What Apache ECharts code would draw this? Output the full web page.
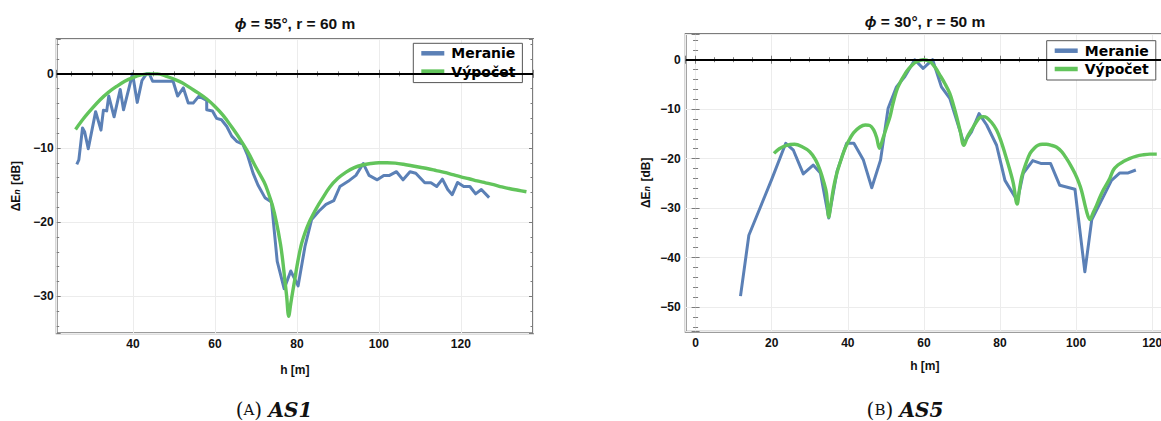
<!DOCTYPE html>
<html>
<head>
<meta charset="utf-8">
<script src="https://cdn.jsdelivr.net/npm/echarts@6/dist/echarts.min.js"></script>
<style>
  html, body { margin: 0; padding: 0; background: #fff; }
  #chart { width: 1161px; height: 421px; }
</style>
</head>
<body>
<div id="chart"></div>
<script>
// AS1: phi = 55°, r = 60 m — measured normalised field [h (m), dB]
const measAS1 = [
  [26.3, -12.2], [26.8, -11.6], [27.7, -7.3], [28.2, -7.8], [29.1, -10.1],
  [30.9, -5.1], [32.2, -7.6], [32.8, -4.9], [33.6, -5.0], [34.1, -3.0],
  [35.4, -5.8], [36.9, -2.1], [37.7, -4.85], [39.9, 0], [41.05, -3.85],
  [42.2, -0.9], [43.3, 0], [44.0, 0], [44.8, -1], [46.0, -1], [47.3, -1],
  [48.6, -1], [49.8, -1], [50.9, -3.0], [52.3, -1.9], [53.5, -3.95],
  [54.7, -3.95], [56.1, -3.0], [58.0, -3.6], [58.0, -4.85], [59.4, -5.0],
  [60.4, -6.0], [61.6, -6.2], [62.9, -7.1], [64.1, -8.4], [65.3, -9.1],
  [66.8, -9.5], [67.9, -10.9], [69.3, -13.4], [70.5, -15.0], [72.2, -16.7],
  [73.8, -17.3], [75.2, -25.3], [76.9, -29.0], [78.5, -26.6], [80.3, -28.6],
  [82.0, -23.2], [83.6, -19.65], [85.4, -18.5], [87.1, -17.6], [89.0, -17.1],
  [90.5, -15.2], [92.5, -14.5], [94.4, -13.7], [96.2, -12.1], [97.6, -13.7],
  [99.6, -14.3], [101.2, -13.7], [102.6, -13.7], [104.3, -13.2], [105.9, -14.3],
  [107.6, -13.2], [109.0, -13.4], [111.2, -14.7], [112.7, -14.7], [114.1, -15.2],
  [115.5, -14.2], [116.8, -15.6], [117.9, -16.3], [119.2, -14.65], [120.7, -15.2],
  [122.2, -15.2], [123.6, -16.2], [125.0, -15.6], [126.9, -16.7]
];

// AS1 — computed curve
const calcAS1 = [
  [26, -7.5], [28, -6.0], [30, -4.7], [32, -3.5], [34, -2.5], [36, -1.7],
  [38, -1.0], [40, -0.5], [42, -0.15], [44, 0], [46, 0], [48, -0.3],
  [50, -0.7], [52, -1.2], [54, -1.9], [56, -2.6], [58, -3.4], [60, -4.4],
  [62, -5.6], [64, -7.1], [66, -8.7], [68, -10.5], [70, -12.6], [72, -14.6],
  [73, -16.0], [74, -17.7], [75, -20.0], [76, -23.0], [76.5, -25.0],
  [77, -27.5], [77.5, -30.0], [78, -32.7], [78.5, -31.0], [79, -29.3],
  [79.5, -27.7], [80, -26.0], [81, -23.2], [82, -21.4], [83, -20.0],
  [84, -18.9], [85, -17.9], [86, -17.0], [88, -15.3], [90, -14.1],
  [92, -13.25], [94, -12.65], [96, -12.3], [98, -12.1], [100, -12.0],
  [102, -12.0], [104, -12.05], [106, -12.2], [108, -12.4], [110, -12.6],
  [112, -12.8], [114, -13.05], [116, -13.3], [118, -13.6], [120, -13.9],
  [122, -14.15], [124, -14.45], [126, -14.7], [128, -14.95], [130, -15.25],
  [132, -15.5], [134, -15.7], [136, -15.9]
];

// AS5: phi = 30°, r = 50 m — measured
const measAS5 = [
  [11.8, -47.8], [14.0, -35.5], [16.5, -30.8], [20.0, -24.2], [23.7, -16.9],
  [25.7, -18.3], [28.3, -23.1], [30.9, -21.3], [32.8, -22.9], [35.0, -32.0],
  [37.2, -22.5], [39.7, -16.9], [41.6, -16.9], [44.1, -20.3], [46.3, -25.9],
  [48.6, -20.3], [50.6, -9.8], [52.8, -5.5], [55.0, -3.4], [57.6, 0],
  [59.8, -1.75], [62.3, 0], [64.6, -5.5], [66.8, -7.8], [70.5, -16.9],
  [72.5, -14.6], [74.5, -10.9], [76.5, -13.2], [79.1, -17.3], [81.3, -24.4],
  [83.9, -27.7], [84.6, -28.4], [86.1, -23.0], [88.6, -20.4], [90.9, -21.0],
  [93.3, -21.0], [95.7, -25.4], [99.7, -26.2], [102.3, -42.9], [104.1, -32.4],
  [106.7, -28.4], [109.3, -24.4], [111.5, -22.9], [113.7, -22.9], [115.7, -22.3]
];

// AS5 — computed curve
const calcAS5 = [
  [20.6, -18.95], [22.0, -18.0], [23.9, -17.3], [26.0, -17.1], [28.0, -17.6],
  [30.0, -18.6], [31.5, -20.2], [32.7, -22.3], [33.6, -24.5], [34.4, -27.0],
  [35.0, -31.8], [35.6, -29.0], [36.3, -25.7], [37.1, -23.0], [37.9, -21.0],
  [39.0, -18.5], [40.1, -16.6], [41.5, -14.8], [43.2, -13.6], [44.6, -13.2],
  [45.8, -13.3], [46.8, -14.2], [47.6, -15.8], [48.3, -17.9], [49.2, -16.0],
  [50.2, -13.6], [51.1, -11.5], [51.9, -8.8], [53.2, -5.5], [55.4, -2.4],
  [57.0, -1.0], [58.1, -0.4], [59.8, 0], [61.6, -0.4], [63.0, -1.6],
  [64.2, -3.1], [65.5, -4.8], [66.8, -6.8], [67.7, -9.0], [68.6, -11.5],
  [69.5, -14.3], [70.5, -17.3], [71.5, -15.5], [72.5, -14.2], [73.6, -12.8],
  [74.7, -11.7], [75.6, -11.5], [76.5, -11.7], [77.8, -12.7], [79.1, -14.2],
  [80.2, -16.3], [81.3, -18.95], [82.4, -21.8], [83.5, -25.0], [84.5, -29.2],
  [85.1, -26.3], [85.7, -23.7], [86.8, -21.0], [87.9, -18.95], [89.0, -17.9],
  [90.0, -17.3], [91.1, -17.1], [92.2, -17.1], [93.5, -17.3], [94.9, -17.7],
  [96.2, -18.6], [97.5, -20.0], [98.6, -21.4], [99.7, -23.0], [100.6, -24.6],
  [101.4, -26.4], [102.8, -30.8], [103.6, -32.3], [104.5, -30.9], [105.4, -29.4],
  [106.2, -27.9], [107.1, -26.4], [108.0, -25.2], [108.9, -23.9], [109.8, -22.3],
  [111.0, -21.3], [112.4, -20.6], [114.0, -20.0], [115.9, -19.5], [117.5, -19.25],
  [119.4, -19.1], [121.2, -19.1]
];

// labelled tick values
const hTicksAS1 = [40, 60, 80, 100, 120];
const dbTicksAS1 = [-30, -20, -10, 0];
const hTicksAS5 = [0, 20, 40, 60, 80, 100, 120];
const dbTicksAS5 = [-50, -40, -30, -20, -10, 0];

const seriesNames = ['Meranie', 'Výpočet'];
const titles = ['{i|ϕ} = 55°, r = 60 m', '{i|ϕ} = 30°, r = 50 m'];
const captions = [['A', 'AS1'], ['B', 'AS5']];

const BLUE = '#5b80b6';
const GREEN = '#62c45b';
const FRAME = '#7c7c7c';
const GRIDLINE = '#ececec';
const LABEL_FONT = 'Liberation Sans';

function tickFormatter(ticks) {
  return function (v) {
    return ticks.indexOf(v) >= 0 ? String(v).replace('-', '\u2212') : '';
  };
}

function xAxes(gridIndex, min, max, ticks, nameGap) {
  const common = {
    type: 'value', gridIndex, min, max, splitNumber: 6,
    axisLine: { show: false },
    axisTick: { show: true, inside: true, length: 4, lineStyle: { color: FRAME, width: 1 } },
    minorTick: { show: true, splitNumber: 4, length: 2.5, lineStyle: { color: FRAME, width: 1 } }
  };
  return [
    Object.assign({}, common, {
      position: 'bottom',
      axisLabel: {
        formatter: tickFormatter(ticks), margin: 5,
        fontFamily: LABEL_FONT, fontWeight: 'bold', fontSize: 12, color: '#111'
      },
      splitLine: { show: true, lineStyle: { color: GRIDLINE, width: 1 } },
      name: 'h [m]', nameLocation: 'middle', nameGap,
      nameTextStyle: { fontFamily: LABEL_FONT, fontWeight: 'bold', fontSize: 12, color: '#111' }
    }),
    Object.assign({}, common, {
      position: 'top', axisLabel: { show: false }, splitLine: { show: false }
    })
  ];
}

function yAxes(gridIndex, min, max, ticks, nameGap, margin) {
  const common = {
    type: 'value', gridIndex, min, max, splitNumber: 5,
    axisLine: { show: false },
    axisTick: { show: true, inside: true, length: 4, lineStyle: { color: FRAME, width: 1 } },
    minorTick: { show: true, splitNumber: 5, length: 2.5, lineStyle: { color: FRAME, width: 1 } }
  };
  return [
    Object.assign({}, common, {
      position: 'left',
      axisLabel: {
        formatter: tickFormatter(ticks), margin,
        fontFamily: LABEL_FONT, fontWeight: 'bold', fontSize: 12, color: '#111'
      },
      splitLine: { show: true, lineStyle: { color: GRIDLINE, width: 1 } },
      name: 'ΔE{n|n} [dB]', nameLocation: 'middle', nameRotate: 90, nameGap,
      nameTextStyle: {
        fontFamily: LABEL_FONT, fontWeight: 'bold', fontSize: 12, color: '#111',
        rich: {
          n: { fontFamily: LABEL_FONT, fontWeight: 'bold', fontStyle: 'italic', fontSize: 9,
               color: '#111', verticalAlign: 'bottom', padding: [0, 1, 0, 0] }
        }
      }
    }),
    Object.assign({}, common, {
      position: 'right', axisLabel: { show: false }, splitLine: { show: false }
    })
  ];
}

function lineSeries(name, data, color, width, xi, yi, smooth, extra) {
  return Object.assign({
    name, type: 'line', data, xAxisIndex: xi, yAxisIndex: yi,
    showSymbol: false, symbol: 'none', smooth, color,
    lineStyle: { color, width, join: 'round' },
    emphasis: { disabled: true }, animation: false
  }, extra || {});
}

function zeroLine() {
  return {
    markLine: {
      silent: true, symbol: 'none', animation: false,
      label: { show: false },
      lineStyle: { color: '#000', width: 1.8, type: 'solid' },
      data: [{ yAxis: 0 }]
    }
  };
}

function legend(left, top) {
  return {
    data: seriesNames, orient: 'vertical', left, top,
    icon: 'rect', itemWidth: 23, itemHeight: 4.5, itemGap: 2.3,
    padding: [2, 7, 3, 8],
    backgroundColor: '#fff', borderColor: '#555', borderWidth: 1,
    selectedMode: false,
    textStyle: { fontFamily: 'DejaVu Sans', fontWeight: 'bold', fontSize: 14,
                 lineHeight: 16, color: '#000', padding: [0, 0, 0, 2] }
  };
}

function titleText(x, y, text) {
  return {
    type: 'text', x, y,
    style: {
      text, align: 'center', verticalAlign: 'middle',
      font: 'bold 15.5px "Liberation Sans"', fill: '#111',
      rich: { i: { fontFamily: LABEL_FONT, fontWeight: 'bold', fontStyle: 'italic', fontSize: 15.5, fill: '#111' } }
    }
  };
}

function captionText(x, y, cap) {
  return {
    type: 'text', x, y,
    style: {
      text: '{r|(}{s|' + cap[0] + '}{r|) }{b|' + cap[1] + '}',
      align: 'center', verticalAlign: 'middle', fill: '#111',
      font: '20px "DejaVu Serif"',
      rich: {
        r: { fontFamily: 'DejaVu Serif', fontSize: 20, fill: '#111' },
        s: { fontFamily: 'DejaVu Serif', fontSize: 15, fill: '#111' },
        b: { fontFamily: 'DejaVu Serif', fontSize: 20, fontWeight: 'bold', fontStyle: 'italic', fill: '#111' }
      }
    }
  };
}

const chart = echarts.init(document.getElementById('chart'), null, { renderer: 'svg' });

chart.setOption({
  animation: false,
  backgroundColor: '#fff',
  grid: [
    { left: 56.7, top: 39, width: 476.3, height: 294.3, show: true, outerBoundsMode: 'none',
      borderColor: FRAME, borderWidth: 2, backgroundColor: 'transparent' },
    { left: 685.7, top: 34, width: 478.3, height: 297.7, show: true, outerBoundsMode: 'none',
      borderColor: FRAME, borderWidth: 2, backgroundColor: 'transparent' }
  ],
  xAxis: [].concat(
    xAxes(0, 21.4, 137.6, hTicksAS1, 31),
    xAxes(1, -2.6, 123.1, hTicksAS5, 28)
  ),
  yAxis: [].concat(
    yAxes(0, -35, 4.7, dbTicksAS1, 35, 3),
    yAxes(1, -55, 5.2, dbTicksAS5, 34, 5)
  ),
  legend: [legend(413.3, 43.3), legend(1046.7, 40.7)],
  series: [
    lineSeries(seriesNames[0], measAS1, BLUE, 3, 0, 0, false, zeroLine()),
    lineSeries(seriesNames[1], calcAS1, GREEN, 3.4, 0, 0, 0.35),
    lineSeries(seriesNames[0], measAS5, BLUE, 3, 2, 2, false, zeroLine()),
    lineSeries(seriesNames[1], calcAS5, GREEN, 3.4, 2, 2, 0.35)
  ],
  graphic: [
    titleText(295, 23, titles[0]),
    titleText(925, 21, titles[1]),
    captionText(274, 410, captions[0]),
    captionText(905, 410, captions[1])
  ]
});
</script>
</body>
</html>
